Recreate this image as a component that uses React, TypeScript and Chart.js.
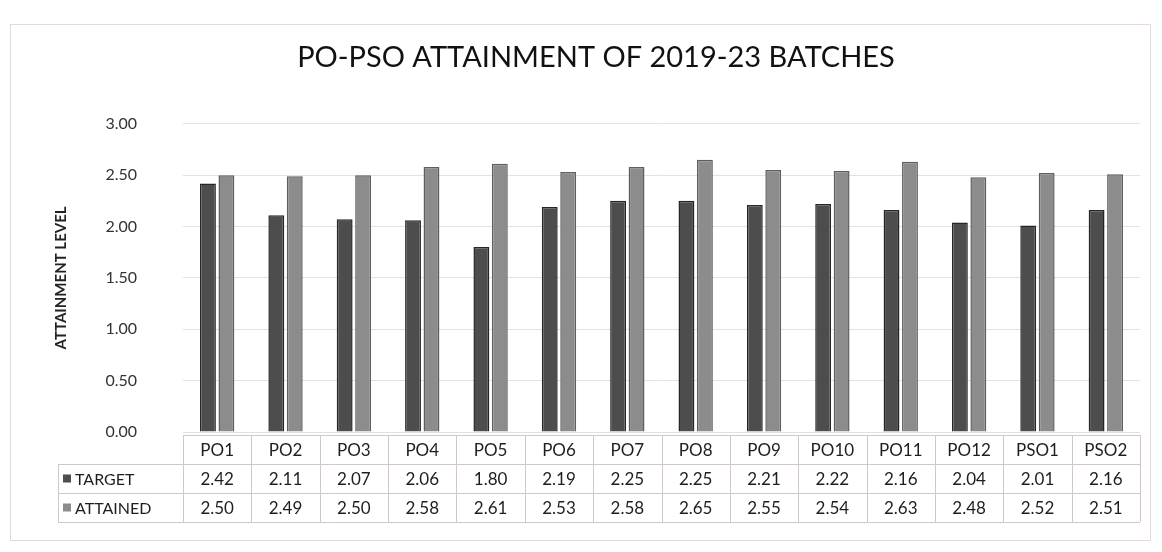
import React, { useEffect, useRef } from "react";
import { Chart, registerables } from "chart.js";

Chart.register(...registerables);

const categories = ["PO1", "PO2", "PO3", "PO4", "PO5", "PO6", "PO7", "PO8", "PO9", "PO10", "PO11", "PO12", "PSO1", "PSO2"];
const targetValues = [2.42, 2.11, 2.07, 2.06, 1.8, 2.19, 2.25, 2.25, 2.21, 2.22, 2.16, 2.04, 2.01, 2.16];
const attainedValues = [2.5, 2.49, 2.5, 2.58, 2.61, 2.53, 2.58, 2.65, 2.55, 2.54, 2.63, 2.48, 2.52, 2.51];
const seriesNames = ["TARGET", "ATTAINED"];
const titleText = "PO-PSO ATTAINMENT OF 2019-23 BATCHES";
const yTitle = "ATTAINMENT LEVEL";

const FONT = "Lato, 'Open Sans', sans-serif";
const TARGET_FILL = "#4d4d4d";
const TARGET_BORDER = "#262626";
const ATTAINED_FILL = "#8c8c8c";
const ATTAINED_BORDER = "#5e5e5e";

const ROW_H = 29;

const tablePlugin = {
  id: "dataTable",
  afterDraw(chart: any) {
    const ctx = chart.ctx;
    const xs = chart.scales.x;
    const area = chart.chartArea;
    const n = categories.length;
    const colW = (area.right - area.left) / n;
    const top = area.bottom + 3;
    const legendLeft = 58;
    ctx.save();
    ctx.strokeStyle = "#cfc8c8";
    ctx.lineWidth = 1;
    ctx.beginPath();
    ctx.moveTo(area.left, top + 0.5);
    ctx.lineTo(area.right, top + 0.5);
    for (let r = 1; r <= 3; r++) {
      ctx.moveTo(legendLeft, top + r * ROW_H + 0.5);
      ctx.lineTo(area.right, top + r * ROW_H + 0.5);
    }
    for (let i = 0; i <= n; i++) {
      const x = Math.round(area.left + i * colW) + 0.5;
      ctx.moveTo(x, top);
      ctx.lineTo(x, top + 3 * ROW_H);
    }
    ctx.moveTo(legendLeft + 0.5, top + ROW_H);
    ctx.lineTo(legendLeft + 0.5, top + 3 * ROW_H);
    ctx.stroke();

    ctx.fillStyle = "#1e1e1e";
    ctx.textAlign = "center";
    ctx.textBaseline = "middle";
    ctx.font = `17px ${FONT}`;
    categories.forEach((c, i) => {
      const x = xs.getPixelForValue(i);
      ctx.fillText(c, x, top + ROW_H / 2 + 1);
      ctx.fillText(targetValues[i].toFixed(2), x, top + ROW_H * 1.5 + 1);
      ctx.fillText(attainedValues[i].toFixed(2), x, top + ROW_H * 2.5 + 1);
    });
    ctx.textAlign = "left";
    ctx.font = `16px ${FONT}`;
    const fills = [TARGET_FILL, ATTAINED_FILL];
    seriesNames.forEach((s, k) => {
      const cy = top + ROW_H * (1.5 + k);
      ctx.fillStyle = fills[k];
      ctx.fillRect(legendLeft + 5, cy - 4, 8, 8);
      ctx.fillStyle = "#1e1e1e";
      ctx.fillText(s, legendLeft + 17, cy + 1);
    });
    ctx.strokeStyle = "#e3dada";
    ctx.strokeRect(10.5, 24.5, chart.width - 22, chart.height - 36);
    ctx.restore();
  },
};

export default function App() {
  const ref = useRef<HTMLCanvasElement>(null);
  useEffect(() => {
    document.body.style.margin = "0";
    const chart = new Chart(ref.current as HTMLCanvasElement, {
      type: "bar",
      data: {
        labels: categories,
        datasets: [
          {
            label: seriesNames[0],
            data: targetValues,
            backgroundColor: TARGET_FILL,
            borderColor: TARGET_BORDER,
            borderWidth: 1.5,
            categoryPercentage: 0.54,
            barPercentage: 0.86,
          },
          {
            label: seriesNames[1],
            data: attainedValues,
            backgroundColor: ATTAINED_FILL,
            borderColor: ATTAINED_BORDER,
            borderWidth: 1.5,
            categoryPercentage: 0.54,
            barPercentage: 0.86,
          },
        ],
      },
      options: {
        animation: false,
        responsive: false,
        layout: { padding: { left: 52, right: 22, top: 16, bottom: 120 } },
        plugins: {
          legend: { display: false },
          tooltip: { enabled: false },
          title: {
            display: true,
            text: titleText,
            color: "#111",
            font: { family: FONT, size: 29, weight: "normal" },
            padding: { top: 24, bottom: 49 },
          },
        },
        scales: {
          x: { display: false },
          y: {
            min: 0,
            max: 3,
            afterFit: (scale: any) => {
              scale.width = 131;
            },
            border: { display: false },
            grid: { color: "#e6e0e0", drawTicks: false },
            ticks: {
              stepSize: 0.5,
              padding: 46,
              color: "#333",
              font: { family: FONT, size: 16 },
              callback: (v: any) => Number(v).toFixed(2),
            },
            title: {
              display: true,
              text: yTitle,
              color: "#222",
              font: { family: FONT, size: 15, weight: "bold" },
              padding: 0,
            },
          },
        },
      },
      plugins: [tablePlugin],
    });
    return () => chart.destroy();
  }, []);
  return <canvas ref={ref} width={1162} height={552} style={{ display: "block" }} />;
}
